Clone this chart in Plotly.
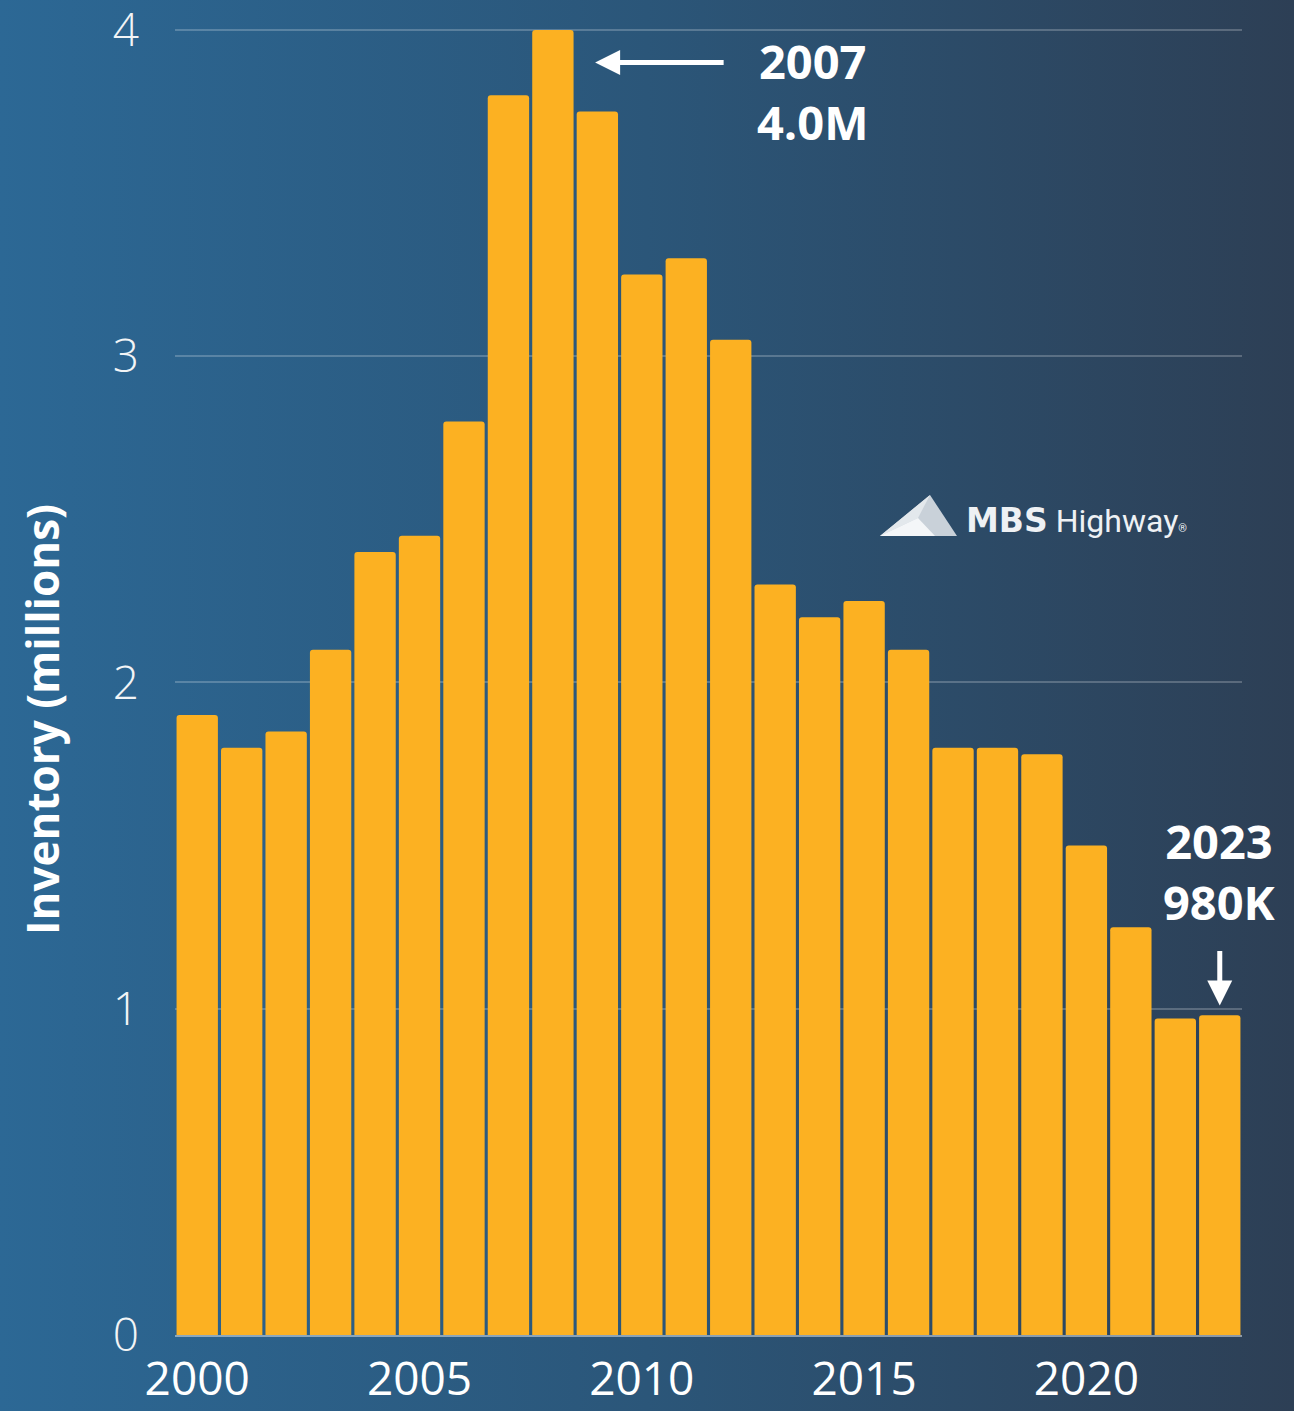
import base64
import plotly.graph_objects as go

# Existing-home inventory, millions of units
years = list(range(2000, 2024))
inventory = [1.90, 1.80, 1.85, 2.10, 2.40, 2.45, 2.80, 3.80, 4.00, 3.75,
             3.25, 3.30, 3.05, 2.30, 2.20, 2.25, 2.10, 1.80, 1.80, 1.78,
             1.50, 1.25, 0.97, 0.98]
x_ticks = [2000, 2005, 2010, 2015, 2020]
y_ticks = [0, 1, 2, 3, 4]

y_title = "Inventory (millions)"
peak_label = "2007<br>4.0M"
latest_label = "2023<br>980K"

W, H = 1294, 1411
ML, MR, MT, MB = 175, 52, 26, 76
PW, PH = W - ML - MR, H - MT - MB
Y_TOP = 4.012


def px(x):
    return (x - ML) / PW


def py(y):
    return (H - MB - y) / PH


# Horizontal background gradient
svg = (
    f'<svg xmlns="http://www.w3.org/2000/svg" width="{W}" height="{H}">'
    '<defs><linearGradient id="g" x1="0" y1="0" x2="1" y2="0">'
    '<stop offset="0" stop-color="#2c6895"/>'
    '<stop offset="0.5" stop-color="#2b5679"/>'
    '<stop offset="1" stop-color="#2d3f55"/>'
    '</linearGradient></defs>'
    f'<rect width="{W}" height="{H}" fill="url(#g)"/></svg>'
)
bg_src = "data:image/svg+xml;base64," + base64.b64encode(svg.encode()).decode()

fig = go.Figure()
fig.add_trace(go.Bar(
    x=years, y=inventory,
    marker=dict(color="#fcb122", line=dict(width=0), cornerradius=3),
    hoverinfo="x+y",
))

peak_i = inventory.index(max(inventory))
last_i = len(years) - 1

annotations = [
    # y-axis title
    dict(x=px(42), y=py(720), xref="paper", yref="paper", xanchor="center",
         yanchor="middle", showarrow=False, textangle=-90, text=y_title,
         font=dict(family="Open Sans", size=44, color="white", weight="bold")),
    # arrow pointing to the peak bar
    dict(x=years[peak_i] + 0.95, y=inventory[peak_i] - 0.10, xref="x", yref="y",
         text="", showarrow=True, arrowhead=2, arrowsize=1, arrowwidth=5,
         arrowcolor="white", ax=130, ay=0, axref="pixel", ayref="pixel"),
    dict(x=years[peak_i] + 5.83, y=inventory[peak_i] - 0.19, xref="x", yref="y",
         text=peak_label, showarrow=False,
         font=dict(family="Open Sans", size=47, color="white", weight="bold")),
    # arrow pointing down at the latest bar
    dict(x=years[last_i], y=inventory[last_i] + 0.03, xref="x", yref="y",
         text="", showarrow=True, arrowhead=2, arrowsize=1, arrowwidth=5,
         arrowcolor="white", ax=0, ay=-56, axref="pixel", ayref="pixel"),
    dict(x=years[last_i], y=inventory[last_i] + 0.44, xref="x", yref="y",
         text=latest_label, showarrow=False,
         font=dict(family="Open Sans", size=47, color="white", weight="bold")),
    # logo wordmark
    dict(x=px(964), y=py(520), xref="paper", yref="paper", xanchor="left",
         yanchor="middle", showarrow=False,
         text=("<span style='font-family:DejaVu Sans;font-weight:bold;"
               "font-size:33px'>MBS</span> Highway"
               "<span style='font-size:11px'>®</span>"),
         font=dict(family="Roboto", size=32, color="#eef1f4")),
]

# logo mountain mark
shapes = [
    dict(type="path", xref="paper", yref="paper", line=dict(width=0),
         fillcolor="#c9d1d9",
         path=f"M {px(880)},{py(536)} L {px(930)},{py(495)} L {px(957)},{py(536)} Z"),
    dict(type="path", xref="paper", yref="paper", line=dict(width=0),
         fillcolor="#e3e8ec",
         path=f"M {px(880)},{py(536)} L {px(930)},{py(495)} L {px(918)},{py(518)} Z"),
    dict(type="path", xref="paper", yref="paper", line=dict(width=0),
         fillcolor="#f4f6f8",
         path=f"M {px(880)},{py(536)} L {px(918)},{py(518)} L {px(935)},{py(536)} Z"),
]

fig.update_layout(
    width=W, height=H,
    margin=dict(l=ML, r=MR, t=MT, b=MB, pad=0),
    paper_bgcolor="#2b5679",
    plot_bgcolor="rgba(0,0,0,0)",
    bargap=0.07,
    showlegend=False,
    annotations=annotations,
    shapes=shapes,
    images=[dict(source=bg_src, xref="paper", yref="paper",
                 x=-ML / PW, y=1 + MT / PH, sizex=W / PW, sizey=H / PH,
                 sizing="stretch", xanchor="left", yanchor="top",
                 layer="below")],
    xaxis=dict(
        range=[1999.5, 2023.5], tickvals=x_ticks, automargin=False,
        tickfont=dict(family="Open Sans", size=46, color="white"),
        showgrid=False, zeroline=False, ticks="",
        showline=True, linecolor="rgba(220,225,230,0.55)", linewidth=2,
        ticklabelstandoff=3, ticklabeloverflow="allow",
    ),
    yaxis=dict(
        range=[0, Y_TOP], tickvals=y_ticks, automargin=False,
        tickfont=dict(family="Open Sans", size=46, color="#f2f4f6", weight=300),
        showgrid=True, gridcolor="rgba(255,255,255,0.22)", gridwidth=2,
        zeroline=False, ticks="", ticklabelstandoff=35,
        ticklabeloverflow="allow",
    ),
)

fig.write_html("out.html")
